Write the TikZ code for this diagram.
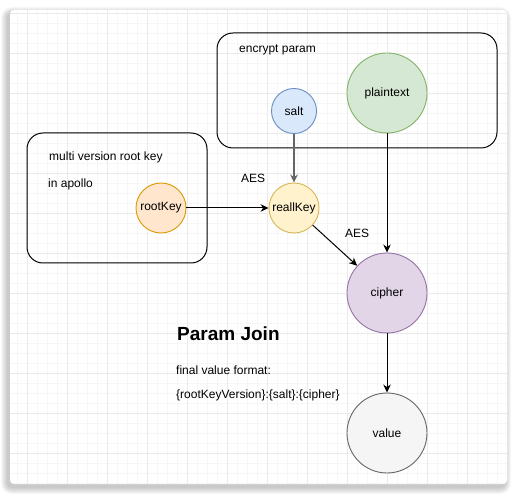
\documentclass[tikz,border=0pt]{standalone}
\usepackage{fontspec}
\setmainfont{Liberation Sans}
\usetikzlibrary{arrows.meta}
\definecolor{saltfill}{HTML}{DAE8FC}\definecolor{saltdraw}{HTML}{6C8EBF}
\definecolor{plainfill}{HTML}{D5E8D4}\definecolor{plaindraw}{HTML}{82B366}
\definecolor{rootfill}{HTML}{FFE6CC}\definecolor{rootdraw}{HTML}{D79B00}
\definecolor{realfill}{HTML}{FFF2CC}\definecolor{realdraw}{HTML}{D6B656}
\definecolor{ciphfill}{HTML}{E1D5E7}\definecolor{ciphdraw}{HTML}{9673A6}
\definecolor{valfill}{HTML}{F5F5F5}\definecolor{valdraw}{HTML}{666666}
\definecolor{gridminor}{HTML}{F6F6F6}\definecolor{gridmajor}{HTML}{EAEAEA}
\definecolor{saltline}{HTML}{666666}
\begin{document}
\begin{tikzpicture}[x=1pt,y=-1pt,
  every node/.style={font=\fontsize{12}{14}\selectfont, text=black},
  ball/.style={circle, draw, line width=0.9pt, inner sep=0pt},
  container/.style={draw=black, line width=1pt, rounded corners=16pt, inner sep=0pt},
  lbl/.style={anchor=base west, inner sep=0pt},
  arr/.style={line width=1pt, -{Stealth[length=8pt,width=7.5pt,inset=2.5pt]}}
]
\useasboundingbox (0,0) rectangle (517,494);
\fill[white] (0,0) rectangle (517,494);
% shadow
\foreach \s in {1,...,7}{
  \fill[black,opacity=0.03,rounded corners=4+\s] (10-\s-2,10-\s+4) rectangle (507+\s-3,484+\s+3);
}
\fill[white, rounded corners=4] (10,10) rectangle (507,484);
\begin{scope}
\clip[rounded corners=4] (10,10) rectangle (507,484);
\foreach \x in {17,27,...,507} \draw[gridminor, line width=0.6pt] (\x,10) -- (\x,484);
\foreach \y in {13,23,...,484} \draw[gridminor, line width=0.6pt] (10,\y) -- (507,\y);
\foreach \x in {27,67,...,507} \draw[gridmajor, line width=0.7pt] (\x,10) -- (\x,484);
\foreach \y in {13,53,...,484} \draw[gridmajor, line width=0.7pt] (10,\y) -- (507,\y);
\end{scope}

% containers
\node[container, minimum width=280pt, minimum height=115pt] (enc) at (357,90.5) {};
\node[container, minimum width=180pt, minimum height=130pt] (multi) at (117,198) {};

\node[lbl] (encl) at (239,52.5) {encrypt param};
\node[lbl] (multil) at (49,161) {multi version root key};
\node[lbl] (apollo) at (48,188) {in apollo};

% circles
\node[ball, fill=saltfill, draw=saltdraw, minimum size=45pt] (salt) at (294,111) {salt};
\node[ball, fill=plainfill, draw=plaindraw, minimum size=80pt] (plain) at (387,93) {plaintext};
\node[ball, fill=rootfill, draw=rootdraw, minimum size=50pt] (root) at (161,208) {rootKey};
\node[ball, fill=realfill, draw=realdraw, minimum size=50pt] (real) at (294,208) {reallKey};
\node[ball, fill=ciphfill, draw=ciphdraw, minimum size=80pt] (cipher) at (387,293) {cipher};
\node[ball, fill=valfill, draw=valdraw, minimum size=80pt] (value) at (387,433) {value};

% labels
\node[lbl] (aes1) at (241,183) {AES};
\node[lbl] (aes2) at (345,238) {AES};
\node[lbl, font=\fontsize{19}{22}\selectfont\bfseries] (pj) at (177,341) {Param Join};
\node[lbl] (fvf) at (176,374) {final value format:};
\node[lbl] (fmt) at (176,398.5) {\{rootKeyVersion\}:\{salt\}:\{cipher\}};

% connectors
\draw[arr, draw=saltline, line width=1.5pt] (salt) -- (real);
\draw[arr] (root) -- (real);
\draw[arr] (real) -- (cipher);
\draw[arr] (plain) -- (cipher);
\draw[arr] (cipher) -- (value);
\end{tikzpicture}
\end{document}
